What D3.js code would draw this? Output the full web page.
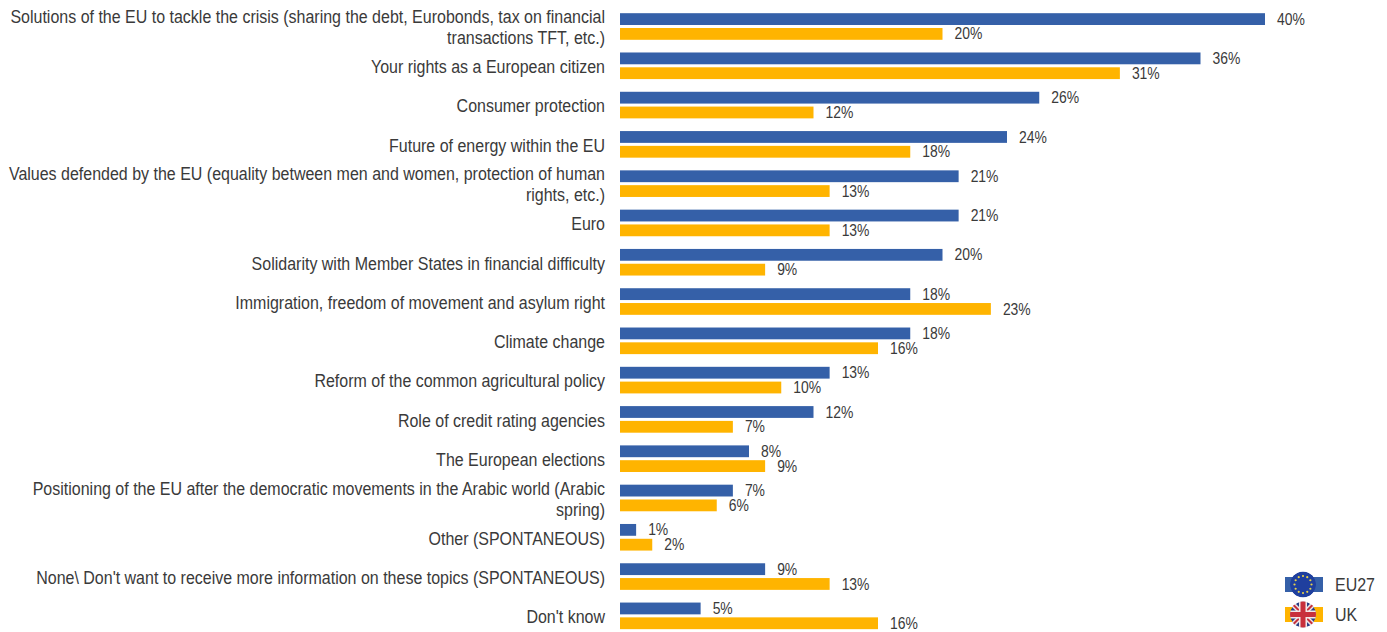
<!DOCTYPE html>
<html><head><meta charset="utf-8">
<script src="https://cdn.jsdelivr.net/npm/d3@7/dist/d3.min.js"></script>
<style>html,body{margin:0;padding:0;background:#fff}svg{display:block}
text{font-family:"Liberation Sans",Arial,sans-serif;fill:#3a3a3a;font-size:18.5px}</style>
</head><body><svg id="c" width="1387" height="632"></svg>
<script>
const categories=[
 ["Solutions of the EU to tackle the crisis (sharing the debt, Eurobonds, tax on financial","transactions TFT, etc.)"],
 ["Your rights as a European citizen"],
 ["Consumer protection"],
 ["Future of energy within the EU"],
 ["Values defended by the EU (equality between men and women, protection of human","rights, etc.)"],
 ["Euro"],
 ["Solidarity with Member States in financial difficulty"],
 ["Immigration, freedom of movement and asylum right"],
 ["Climate change"],
 ["Reform of the common agricultural policy"],
 ["Role of credit rating agencies"],
 ["The European elections"],
 ["Positioning of the EU after the democratic movements in the Arabic world (Arabic","spring)"],
 ["Other (SPONTANEOUS)"],
 ["None\\ Don't want to receive more information on these topics (SPONTANEOUS)"],
 ["Don't know"]
];
const eu27=[40,36,26,24,21,21,20,18,18,13,12,8,7,1,9,5];
const uk=[20,31,12,18,13,13,9,23,16,10,7,9,6,2,13,16];
const seriesNames=["EU27","UK"];
const seriesColors=["#3560a8","#ffb400"];

const svg=d3.select("#c");
const x=d3.scaleLinear().domain([0,40]).range([620,1265]);
const y=d3.scaleBand().domain(d3.range(categories.length)).range([6.85,635.5]).paddingInner(0).paddingOuter(0);
const barH=11.8, gap=1.5, sx=0.865;
[eu27,uk].forEach((vals,s)=>{
  const yy=i=>y(i)+y.bandwidth()/2+(s===0?-barH-gap:gap);
  const g=svg.append("g");
  g.selectAll("rect").data(vals).join("rect")
   .attr("x",x(0)).attr("y",(d,i)=>yy(i))
   .attr("width",d=>x(d)-x(0)).attr("height",barH).attr("fill",seriesColors[s]);
  g.selectAll("text").data(vals).join("text")
   .attr("transform",(d,i)=>`translate(${x(d)+12},${yy(i)+barH/2}) scale(0.87,1)`).attr("dy","0.35em")
   .style("font-size","16px").text(d=>d+"%");
});
const lab=svg.append("g").attr("text-anchor","end");
categories.forEach((lines,i)=>{
  const cy=y(i)+y.bandwidth()/2+0.8;
  lines.forEach((t,j)=>{
    lab.append("text")
      .attr("transform",`translate(605,${cy+(j-(lines.length-1)/2)*21}) scale(${sx},1)`).attr("dy","0.35em").text(t);
  });
});
// legend
const defs=svg.append("defs");
const lx=1303, ly=[584.5,614.5], r=13;
const leg=svg.append("g");
seriesNames.forEach((n,s)=>{
  leg.append("rect").attr("x",1285).attr("y",ly[s]-7.5).attr("width",38).attr("height",15).attr("fill",seriesColors[s]);
  leg.append("text").attr("transform",`translate(1335,${ly[s]}) scale(${sx},1)`).attr("dy","0.35em").text(n);
  defs.append("clipPath").attr("id","f"+s).append("circle").attr("cx",lx).attr("cy",ly[s]).attr("r",r);
});
const eu=leg.append("g").attr("clip-path","url(#f0)");
eu.append("circle").attr("cx",lx).attr("cy",ly[0]).attr("r",r).attr("fill","#1f3f9e");
d3.range(12).forEach(k=>{
  const a=k/12*2*Math.PI;
  eu.append("circle").attr("cx",lx+8.5*Math.cos(a)).attr("cy",ly[0]+8.5*Math.sin(a)).attr("r",1.1).attr("fill","#e8d24a");
});
const ukg=leg.append("g").attr("clip-path","url(#f1)");
const c=ly[1];
ukg.append("circle").attr("cx",lx).attr("cy",c).attr("r",r).attr("fill","#2b3f86");
[[-1,-1],[-1,1]].forEach(([a,b])=>{
  ukg.append("line").attr("x1",lx+a*14).attr("y1",c+b*14).attr("x2",lx-a*14).attr("y2",c-b*14).attr("stroke","#f2e8e8").attr("stroke-width",5);
  ukg.append("line").attr("x1",lx+a*14).attr("y1",c+b*14).attr("x2",lx-a*14).attr("y2",c-b*14).attr("stroke","#c8303c").attr("stroke-width",2);
});
ukg.append("rect").attr("x",lx-14).attr("y",c-4).attr("width",28).attr("height",8).attr("fill","#f2e8e8");
ukg.append("rect").attr("x",lx-4).attr("y",c-14).attr("width",8).attr("height",28).attr("fill","#f2e8e8");
ukg.append("rect").attr("x",lx-14).attr("y",c-2.5).attr("width",28).attr("height",5).attr("fill","#c8303c");
ukg.append("rect").attr("x",lx-2.5).attr("y",c-14).attr("width",5).attr("height",28).attr("fill","#c8303c");
</script></body></html>
